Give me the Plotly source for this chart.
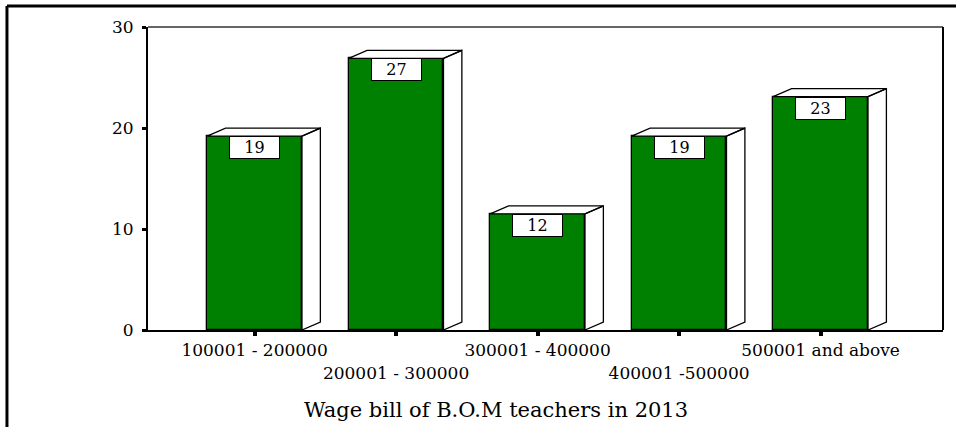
import plotly.graph_objects as go

categories = ["100001 - 200000", "200001 - 300000", "300001 - 400000",
              "400001 -500000", "500001 and above"]
percent_values = [19.2, 26.9, 11.5, 19.2, 23.1]
bar_labels = ["19", "27", "12", "19", "23"]
y_ticks = [0, 10, 20, 30]
x_title = "Wage bill of B.O.M teachers in 2013"

FONT = "DejaVu Serif"
GREEN = "#008000"
BAR_W = 0.67
DEPTH_X = 0.13   # depth of 3D effect in category units
DEPTH_Y = 0.79   # depth of 3D effect in value units

xs = list(range(len(categories)))

# side and top faces (computed from data values)
fx, fy = [], []
for x, v in zip(xs, percent_values):
    r = x + BAR_W / 2
    l = x - BAR_W / 2
    # side face
    fx += [r, r + DEPTH_X, r + DEPTH_X, r, r, None]
    fy += [0, DEPTH_Y, v + DEPTH_Y, v, 0, None]
    # top face
    fx += [l, r, r + DEPTH_X, l + DEPTH_X, l, None]
    fy += [v, v, v + DEPTH_Y, v + DEPTH_Y, v, None]

fig = go.Figure()
fig.add_trace(go.Scatter(x=fx, y=fy, mode="lines", fill="toself",
                         fillcolor="white", line=dict(color="black", width=1.3),
                         hoverinfo="skip", showlegend=False))
fig.add_trace(go.Bar(x=xs, y=percent_values, width=BAR_W,
                     marker=dict(color=GREEN, line=dict(color="black", width=1.3)),
                     showlegend=False))

# value boxes
for x, v, t in zip(xs, percent_values, bar_labels):
    fig.add_annotation(x=x, y=v, xref="x", yref="y", text=t, showarrow=False,
                       yanchor="top", xanchor="center", width=47, height=19,
                       bgcolor="white", bordercolor="black", borderwidth=1,
                       borderpad=1, font=dict(family=FONT, size=16, color="black"))

ticktext = [c if i % 2 == 0 else "<br>" + c for i, c in enumerate(categories)]

fig.update_layout(
    width=956, height=427,
    margin=dict(l=148, r=13, t=27, b=97),
    paper_bgcolor="white", plot_bgcolor="white",
    bargap=0,
    xaxis=dict(range=[-0.753, 4.865], tickvals=xs, ticktext=ticktext,
               showgrid=False, zeroline=False, showline=True, linecolor="black",
               linewidth=2, ticks="outside", ticklen=4, tickwidth=4,
               tickcolor="black", tickangle=0,
               tickfont=dict(family=FONT, size=17, color="black")),
    yaxis=dict(range=[0, 30], tickvals=y_ticks, showgrid=False, zeroline=False,
               showline=True, linecolor="black", linewidth=2, ticks="outside",
               ticklen=4, tickwidth=3, tickcolor="black", ticklabelstandoff=5,
               tickfont=dict(family=FONT, size=17, color="black")),
)

# plot frame: gray top, black right
fig.add_shape(type="line", xref="paper", yref="paper", x0=0, x1=1, y0=1, y1=1,
              line=dict(color="#666666", width=2))
fig.add_shape(type="line", xref="paper", yref="paper", x0=1, x1=1, y0=0, y1=1,
              line=dict(color="black", width=2))
# outer frame (top and left)
fig.add_shape(type="line", xref="paper", yref="paper", x0=-0.1774, x1=1.02,
              y0=1.0693, y1=1.0693, line=dict(color="black", width=3))
fig.add_shape(type="line", xref="paper", yref="paper", x0=-0.1774, x1=-0.1774,
              y0=-0.33, y1=1.0693, line=dict(color="black", width=3))

fig.add_annotation(x=0.4377, y=-0.265, xref="paper", yref="paper", text=x_title,
                   showarrow=False, xanchor="center", yanchor="middle",
                   font=dict(family=FONT, size=21, color="black"))

fig.write_html("out.html", config={"displayModeBar": False},
               post_script="document.body.style.margin='0';"
                           "document.body.style.padding='0';"
                           "document.body.style.overflow='hidden';")
